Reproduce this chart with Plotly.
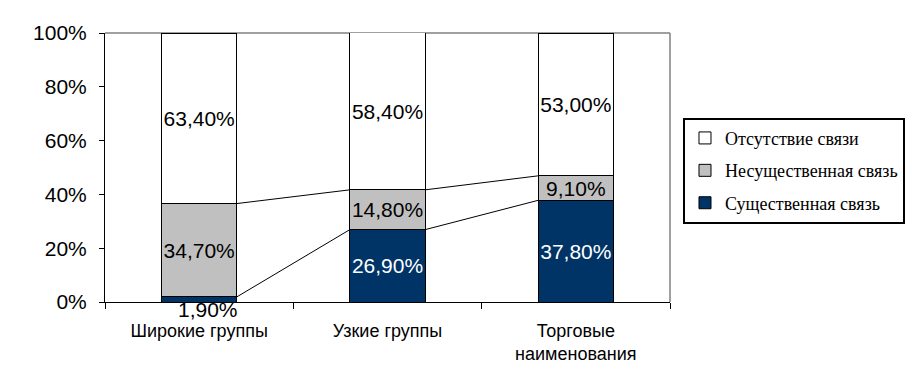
import plotly.graph_objects as go

categories = ["Широкие группы", "Узкие группы", "Торговые<br>наименования"]
series_names = ["Существенная связь", "Несущественная связь", "Отсутствие связи"]
significant = [1.9, 26.9, 37.8]
insignificant = [34.7, 14.8, 9.1]
absent = [63.4, 58.4, 53.0]
y_ticks = [0, 20, 40, 60, 80, 100]
y_tick_labels = [f"{v}%" for v in y_ticks]

colors = ["#003366", "#C0C0C0", "#FFFFFF"]
text_colors = ["#FFFFFF", "#000000", "#000000"]
legend_ranks = [3, 2, 1]
values = [significant, insignificant, absent]


def fmt(v):
    return f"{v:.2f}".replace(".", ",") + "%"


fig = go.Figure()
for name, vals, col, tcol, rank in zip(series_names, values, colors, text_colors, legend_ranks):
    texts = [fmt(v) if v >= 5 else "" for v in vals]
    fig.add_trace(go.Bar(
        x=categories, y=vals, name=name, legendgroup=name, legendrank=rank,
        marker=dict(color=col, line=dict(color="#000000", width=1)),
        text=texts, textposition="inside", insidetextanchor="middle",
        textangle=0, constraintext="none",
        textfont=dict(family="Liberation Sans", size=21, color=tcol),
        hoverinfo="skip",
    ))

# small label placed under the bar
for cat, v in zip(categories, significant):
    if v < 5:
        fig.add_annotation(x=cat, y=0, xref="x", yref="y", text=fmt(v),
                           showarrow=False, yanchor="middle", yshift=-7, xshift=9,
                           font=dict(family="Liberation Sans", size=21, color="#000000"))

# series lines connecting stacked segment tops between bars
half = 0.2
cum1 = significant
cum2 = [a + b for a, b in zip(significant, insignificant)]
for cum in (cum1, cum2):
    xs, ys = [], []
    for i in range(len(cum) - 1):
        xs += [i + half, i + 1 - half, None]
        ys += [cum[i], cum[i + 1], None]
    fig.add_trace(go.Scatter(x=xs, y=ys, xaxis="x2", mode="lines",
                             line=dict(color="#000000", width=1),
                             showlegend=False, hoverinfo="skip"))

fig.update_layout(
    width=912, height=371,
    margin=dict(l=97, r=250, t=25, b=77),
    barmode="stack", bargap=0.6,
    paper_bgcolor="#FFFFFF", plot_bgcolor="#FFFFFF",
    xaxis=dict(type="category", range=[-0.5, 2.5], tickson="boundaries",
               ticks="outside", ticklen=6, tickcolor="#000000",
               showline=True, linecolor="#000000", linewidth=1,
               showgrid=False, zeroline=False, ticklabelstandoff=12,
               tickfont=dict(family="Liberation Sans", size=18, color="#000000")),
    xaxis2=dict(overlaying="x", range=[-0.5, 2.5], visible=False, type="linear"),
    yaxis=dict(range=[0, 100], tickvals=y_ticks, ticktext=y_tick_labels,
               ticks="outside", ticklen=5, tickcolor="#000000",
               showline=True, linecolor="#000000", linewidth=1,
               showgrid=False, zeroline=False, ticklabelstandoff=8,
               tickfont=dict(family="Liberation Sans", size=21, color="#000000")),
    legend=dict(x=1.023, y=0.685, xanchor="left", yanchor="top",
                traceorder="grouped", tracegroupgap=6,
                bordercolor="#000000", borderwidth=2, bgcolor="#FFFFFF",
                font=dict(family="Liberation Serif", size=18, color="#000000")),
    showlegend=True,
    shapes=[
        dict(type="line", xref="paper", yref="paper", x0=0, x1=1, y0=1, y1=1,
             line=dict(color="#808080", width=1.5), layer="below"),
        dict(type="line", xref="paper", yref="paper", x0=1, x1=1, y0=0, y1=1,
             line=dict(color="#808080", width=1.5), layer="below"),
    ],
)

fig.write_html("out.html")
